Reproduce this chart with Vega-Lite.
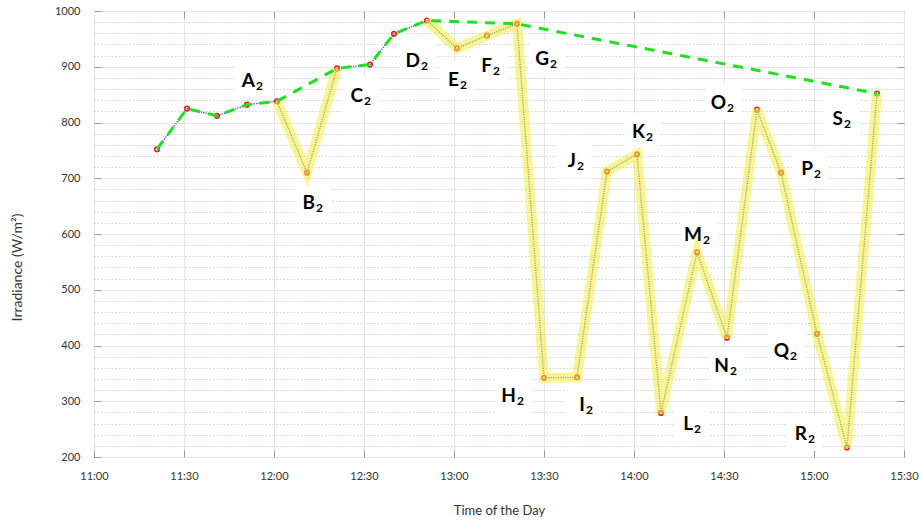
{
  "$schema": "https://vega.github.io/schema/vega-lite/v6.json",
  "width": 810,
  "height": 446,
  "autosize": {"type": "none"},
  "padding": {"left": 94, "top": 11, "right": 18, "bottom": 66},
  "background": "white",
  "config": {
    "font": "Lato",
    "view": {"stroke": "#8a8a8a", "strokeWidth": 1},
    "axis": {"domain": false}
  },
  "datasets": {
    "readings": [
      {"time": "2020-06-01T11:21:00", "irradiance": 752, "band": 0, "envelope": 1},
      {"time": "2020-06-01T11:31:00", "irradiance": 825, "band": 0, "envelope": 1},
      {"time": "2020-06-01T11:41:00", "irradiance": 812, "band": 0, "envelope": 1},
      {"time": "2020-06-01T11:51:00", "irradiance": 832, "band": 0, "envelope": 1},
      {"time": "2020-06-01T12:01:00", "irradiance": 838, "band": 1, "envelope": 1},
      {"time": "2020-06-01T12:11:00", "irradiance": 710, "band": 1, "envelope": 0},
      {"time": "2020-06-01T12:21:00", "irradiance": 897, "band": 1, "envelope": 1},
      {"time": "2020-06-01T12:32:00", "irradiance": 904, "band": 0, "envelope": 1},
      {"time": "2020-06-01T12:40:00", "irradiance": 959, "band": 0, "envelope": 1},
      {"time": "2020-06-01T12:51:00", "irradiance": 983, "band": 2, "envelope": 1},
      {"time": "2020-06-01T13:01:00", "irradiance": 933, "band": 2, "envelope": 0},
      {"time": "2020-06-01T13:11:00", "irradiance": 956, "band": 2, "envelope": 0},
      {"time": "2020-06-01T13:21:00", "irradiance": 977, "band": 2, "envelope": 1},
      {"time": "2020-06-01T13:30:00", "irradiance": 342, "band": 2, "envelope": 0},
      {"time": "2020-06-01T13:41:00", "irradiance": 343, "band": 2, "envelope": 0},
      {"time": "2020-06-01T13:51:00", "irradiance": 712, "band": 2, "envelope": 0},
      {"time": "2020-06-01T14:01:00", "irradiance": 743, "band": 2, "envelope": 0},
      {"time": "2020-06-01T14:09:00", "irradiance": 279, "band": 2, "envelope": 0},
      {"time": "2020-06-01T14:21:00", "irradiance": 567, "band": 2, "envelope": 0},
      {"time": "2020-06-01T14:31:00", "irradiance": 414, "band": 2, "envelope": 0},
      {"time": "2020-06-01T14:41:00", "irradiance": 823, "band": 2, "envelope": 0},
      {"time": "2020-06-01T14:49:00", "irradiance": 710, "band": 2, "envelope": 0},
      {"time": "2020-06-01T15:01:00", "irradiance": 421, "band": 2, "envelope": 0},
      {"time": "2020-06-01T15:11:00", "irradiance": 217, "band": 2, "envelope": 0},
      {"time": "2020-06-01T15:21:00", "irradiance": 852, "band": 2, "envelope": 1}
    ],
    "notes": [
      {"letter": "A", "time": "2020-06-01T11:53:00", "irradiance": 876},
      {"letter": "B", "time": "2020-06-01T12:13:00", "irradiance": 657},
      {"letter": "C", "time": "2020-06-01T12:29:00", "irradiance": 849},
      {"letter": "D", "time": "2020-06-01T12:48:00", "irradiance": 913},
      {"letter": "E", "time": "2020-06-01T13:01:00", "irradiance": 878},
      {"letter": "F", "time": "2020-06-01T13:12:00", "irradiance": 904},
      {"letter": "G", "time": "2020-06-01T13:31:00", "irradiance": 916},
      {"letter": "H", "time": "2020-06-01T13:20:00", "irradiance": 311},
      {"letter": "I", "time": "2020-06-01T13:43:00", "irradiance": 295},
      {"letter": "J", "time": "2020-06-01T13:40:00", "irradiance": 732},
      {"letter": "K", "time": "2020-06-01T14:03:00", "irradiance": 784},
      {"letter": "L", "time": "2020-06-01T14:19:00", "irradiance": 261},
      {"letter": "M", "time": "2020-06-01T14:22:00", "irradiance": 600},
      {"letter": "N", "time": "2020-06-01T14:31:00", "irradiance": 365},
      {"letter": "O", "time": "2020-06-01T14:30:00", "irradiance": 837},
      {"letter": "P", "time": "2020-06-01T14:59:00", "irradiance": 718},
      {"letter": "Q", "time": "2020-06-01T14:51:00", "irradiance": 392},
      {"letter": "R", "time": "2020-06-01T14:57:00", "irradiance": 243},
      {"letter": "S", "time": "2020-06-01T15:09:00", "irradiance": 808}
    ]
  },
  "resolve": {"axis": {"x": "independent", "y": "independent"}},
  "layer": [
    {
      "data": {"name": "readings"},
      "mark": {"type": "point", "opacity": 0},
      "encoding": {
        "x": {
          "field": "time",
          "type": "temporal",
          "scale": {
            "domain": [
              {"year": 2020, "month": 6, "date": 1, "hours": 11, "minutes": 0},
              {"year": 2020, "month": 6, "date": 1, "hours": 15, "minutes": 30}
            ]
          },
          "axis": {
            "orient": "bottom",
            "format": "%H:%M",
            "values": [
              {"year": 2020, "month": 6, "date": 1, "hours": 11, "minutes": 0},
              {"year": 2020, "month": 6, "date": 1, "hours": 11, "minutes": 30},
              {"year": 2020, "month": 6, "date": 1, "hours": 12, "minutes": 0},
              {"year": 2020, "month": 6, "date": 1, "hours": 12, "minutes": 30},
              {"year": 2020, "month": 6, "date": 1, "hours": 13, "minutes": 0},
              {"year": 2020, "month": 6, "date": 1, "hours": 13, "minutes": 30},
              {"year": 2020, "month": 6, "date": 1, "hours": 14, "minutes": 0},
              {"year": 2020, "month": 6, "date": 1, "hours": 14, "minutes": 30},
              {"year": 2020, "month": 6, "date": 1, "hours": 15, "minutes": 0},
              {"year": 2020, "month": 6, "date": 1, "hours": 15, "minutes": 30}
            ],
            "grid": true,
            "gridColor": "#e6e6e6",
            "tickSize": -7,
            "tickColor": "#999999",
            "labelFontSize": 11,
            "labelColor": "#333333",
            "labelPadding": 20,
            "labelFlush": false,
            "labelOverlap": false,
            "title": "Time of the Day",
            "titleFontSize": 13,
            "titleFontWeight": "normal",
            "titleColor": "#333333",
            "titlePadding": 23
          }
        },
        "y": {
          "field": "irradiance",
          "type": "quantitative",
          "scale": {"domain": [200, 1000], "nice": false, "zero": false},
          "axis": {
            "orient": "left",
            "values": [200, 300, 400, 500, 600, 700, 800, 900, 1000],
            "format": "d",
            "grid": true,
            "gridColor": "#e6e6e6",
            "tickSize": -7,
            "tickColor": "#999999",
            "labelFontSize": 11,
            "labelColor": "#333333",
            "labelPadding": 21,
            "labelFlush": false,
            "labelOverlap": false,
            "title": "Irradiance (W/m²)",
            "titleFontSize": 14,
            "titleFontWeight": "normal",
            "titleColor": "#333333",
            "titleX": -70,
            "titleY": 256
          }
        }
      }
    },
    {
      "data": {"name": "readings"},
      "mark": {"type": "point", "opacity": 0},
      "encoding": {
        "x": {
          "field": "time",
          "type": "temporal",
          "axis": {
            "orient": "top",
            "values": [
              {"year": 2020, "month": 6, "date": 1, "hours": 11, "minutes": 30},
              {"year": 2020, "month": 6, "date": 1, "hours": 12, "minutes": 0},
              {"year": 2020, "month": 6, "date": 1, "hours": 12, "minutes": 30},
              {"year": 2020, "month": 6, "date": 1, "hours": 13, "minutes": 0},
              {"year": 2020, "month": 6, "date": 1, "hours": 13, "minutes": 30},
              {"year": 2020, "month": 6, "date": 1, "hours": 14, "minutes": 0},
              {"year": 2020, "month": 6, "date": 1, "hours": 14, "minutes": 30},
              {"year": 2020, "month": 6, "date": 1, "hours": 15, "minutes": 0}
            ],
            "grid": false,
            "labels": false,
            "tickSize": -7,
            "tickColor": "#999999",
            "title": null
          }
        },
        "y": {
          "field": "irradiance",
          "type": "quantitative",
          "axis": {
            "orient": "right",
            "values": [220, 240, 260, 280, 300, 320, 340, 360, 380, 400, 420, 440, 460, 480, 500, 520, 540, 560, 580, 600, 620, 640, 660, 680, 700, 720, 740, 760, 780, 800, 820, 840, 860, 880, 900, 920, 940, 960, 980],
            "grid": true,
            "gridColor": {"condition": {"test": "datum.value % 100 === 0", "value": "transparent"}, "value": "#d9d9d9"},
            "gridDash": [2, 1.5],
            "labels": false,
            "tickSize": -7,
            "tickColor": {"condition": {"test": "datum.value % 100 === 0", "value": "#999999"}, "value": "transparent"},
            "title": null
          }
        }
      }
    },
    {
      "data": {"name": "notes"},
      "mark": {
        "type": "point",
        "shape": "square",
        "size": 1300,
        "filled": true,
        "color": "white",
        "opacity": 1
      },
      "encoding": {
        "x": {"field": "time", "type": "temporal", "axis": null},
        "y": {"field": "irradiance", "type": "quantitative", "axis": null}
      }
    },
    {
      "data": {"name": "readings"},
      "mark": {
        "type": "line",
        "color": "#4848d8",
        "strokeWidth": 1.4,
        "strokeDash": [1.2, 1.2]
      },
      "encoding": {
        "x": {"field": "time", "type": "temporal", "axis": null},
        "y": {"field": "irradiance", "type": "quantitative", "axis": null}
      }
    },
    {
      "data": {"name": "readings"},
      "mark": {
        "type": "point",
        "shape": "circle",
        "size": 20,
        "filled": false,
        "stroke": "#e8261c",
        "strokeWidth": 1.7,
        "opacity": 1
      },
      "encoding": {
        "x": {"field": "time", "type": "temporal", "axis": null},
        "y": {"field": "irradiance", "type": "quantitative", "axis": null}
      }
    },
    {
      "data": {"name": "readings"},
      "transform": [{"filter": "datum.band > 0"}],
      "mark": {
        "type": "line",
        "color": "#f3ef3c",
        "strokeWidth": 10,
        "opacity": 0.55,
        "strokeJoin": "miter",
        "strokeCap": "butt"
      },
      "encoding": {
        "x": {"field": "time", "type": "temporal", "axis": null},
        "y": {"field": "irradiance", "type": "quantitative", "axis": null},
        "detail": {"field": "band", "type": "nominal"}
      }
    },
    {
      "data": {"name": "readings"},
      "transform": [{"filter": "datum.envelope == 1"}],
      "mark": {
        "type": "line",
        "color": "#1fe01f",
        "strokeWidth": 3,
        "strokeDash": [10, 8]
      },
      "encoding": {
        "x": {"field": "time", "type": "temporal", "axis": null},
        "y": {"field": "irradiance", "type": "quantitative", "axis": null}
      }
    },
    {
      "data": {"name": "notes"},
      "mark": {
        "type": "text",
        "fontSize": 19,
        "fontWeight": "bold",
        "color": "black",
        "align": "right",
        "baseline": "alphabetic",
        "dx": 2,
        "dy": 7
      },
      "encoding": {
        "x": {"field": "time", "type": "temporal", "axis": null},
        "y": {"field": "irradiance", "type": "quantitative", "axis": null},
        "text": {"field": "letter"}
      }
    },
    {
      "data": {"name": "notes"},
      "mark": {
        "type": "text",
        "fontSize": 12,
        "fontWeight": "bold",
        "color": "black",
        "align": "left",
        "baseline": "alphabetic",
        "dx": 3,
        "dy": 10
      },
      "encoding": {
        "x": {"field": "time", "type": "temporal", "axis": null},
        "y": {"field": "irradiance", "type": "quantitative", "axis": null},
        "text": {"value": "2"}
      }
    }
  ]
}
